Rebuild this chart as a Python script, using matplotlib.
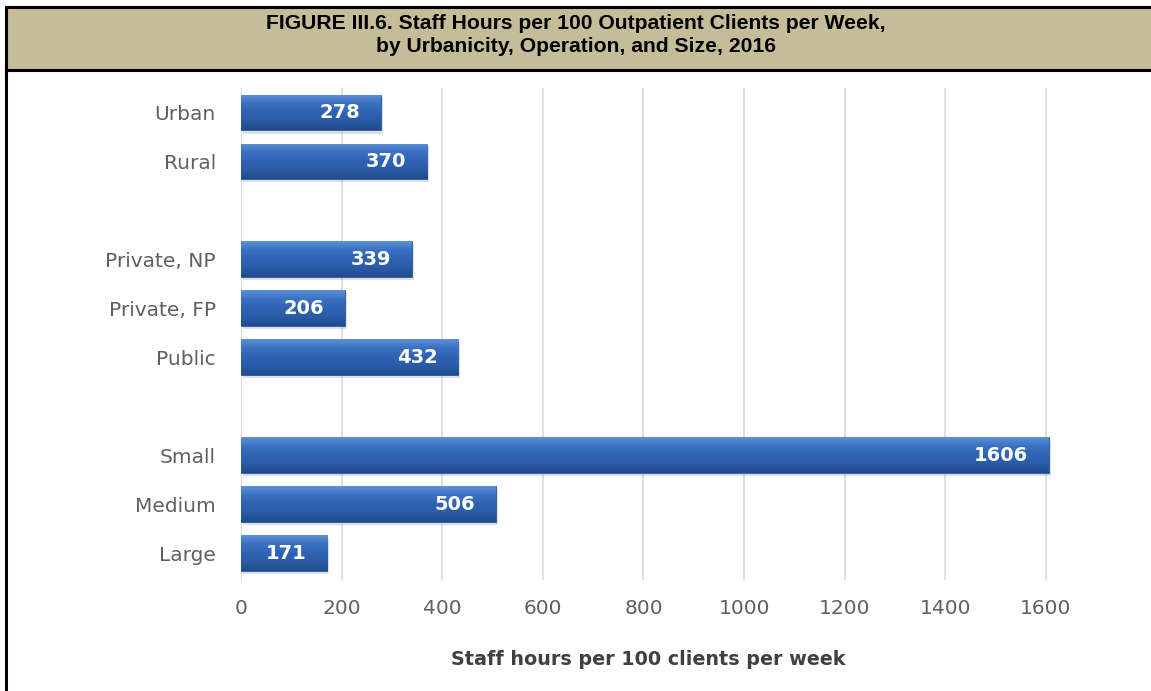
import numpy as np
import matplotlib
matplotlib.use("Agg")
import matplotlib.pyplot as plt
from matplotlib.colors import LinearSegmentedColormap
from matplotlib.patches import Rectangle
from matplotlib.lines import Line2D

# data
categories = ["Urban", "Rural", "Private, NP", "Private, FP", "Public",
              "Small", "Medium", "Large"]
values = [278, 370, 339, 206, 432, 1606, 506, 171]
# rows, with an empty row between the three groups
rows = [0, 1, 3, 4, 5, 7, 8, 9]
xticks = [0, 200, 400, 600, 800, 1000, 1200, 1400, 1600]

title = ("FIGURE III.6. Staff Hours per 100 Outpatient Clients per Week,\n"
         "by Urbanicity, Operation, and Size, 2016")
xlabel = "Staff hours per 100 clients per week"

W, H = 1151, 691
fig = plt.figure(figsize=(W / 100, H / 100), dpi=100)

# title box and frame
fig.patches.append(Rectangle((6 / W, 1 - 70 / H), 1.0, 63 / H, transform=fig.transFigure,
                             facecolor="#C4BD97", edgecolor="black", linewidth=2.2))
fig.lines.append(Line2D([6 / W, 6 / W], [0, 1 - 70 / H], transform=fig.transFigure,
                        color="black", linewidth=2.2))
fig.text(0.5, 1 - 35 / H, title, ha="center", va="center", fontsize=15.2,
         fontweight="bold", family="Liberation Sans", linespacing=1.27)

# plot area in pixels
left, right = 241, 1056
top, bottom = 88, 580
ax = fig.add_axes([left / W, 1 - bottom / H, (right - left) / W, (bottom - top) / H])

xmax = 1620
ylim = (9.55, -0.5)

# soft shadow under the bars
ax.barh([r + 0.06 for r in rows], values, height=0.74, left=4, color="#9aa6b8",
        alpha=0.35, zorder=2, linewidth=0)
bars = ax.barh(rows, values, height=0.73, color="#2F65B5", edgecolor="#2A5699",
               linewidth=0.6, zorder=3)

cmap = LinearSegmentedColormap.from_list(
    "bar", ["#5C90D6", "#3A70C2", "#2F64B4", "#2A5BA6", "#1F4C8E"])
grad = np.linspace(0, 1, 64).reshape(-1, 1)
for b in bars:
    x0, y0 = b.get_x(), b.get_y()
    im = ax.imshow(grad, extent=[x0, x0 + b.get_width(), y0 + b.get_height(), y0],
                   aspect="auto", cmap=cmap, zorder=4, interpolation="bicubic")
    im.set_clip_path(b)

for r, v in zip(rows, values):
    ax.annotate(str(v), (v, r), xytext=(-15, 0), textcoords="offset points",
                ha="right", va="center", color="white", fontsize=14,
                fontweight="bold", family="DejaVu Sans", zorder=5)

ax.set_xlim(0, xmax)
ax.set_ylim(*ylim)
ax.set_xticks(xticks)
ax.set_yticks(rows)
ax.set_yticklabels(categories)
ax.grid(axis="x", color="#D9D9D9", linewidth=1.2, zorder=0)
ax.set_axisbelow(True)
for s in ax.spines.values():
    s.set_visible(False)
ax.tick_params(axis="both", length=0, labelsize=14.5, labelcolor="#606060")
ax.tick_params(axis="y", pad=18)
ax.tick_params(axis="x", pad=14)
for t in ax.get_xticklabels() + ax.get_yticklabels():
    t.set_family("DejaVu Sans")

ax.set_xlabel(xlabel, fontsize=13.8, fontweight="bold", color="#404040",
              family="DejaVu Sans", labelpad=23)

fig.savefig("out.png", dpi=100)
